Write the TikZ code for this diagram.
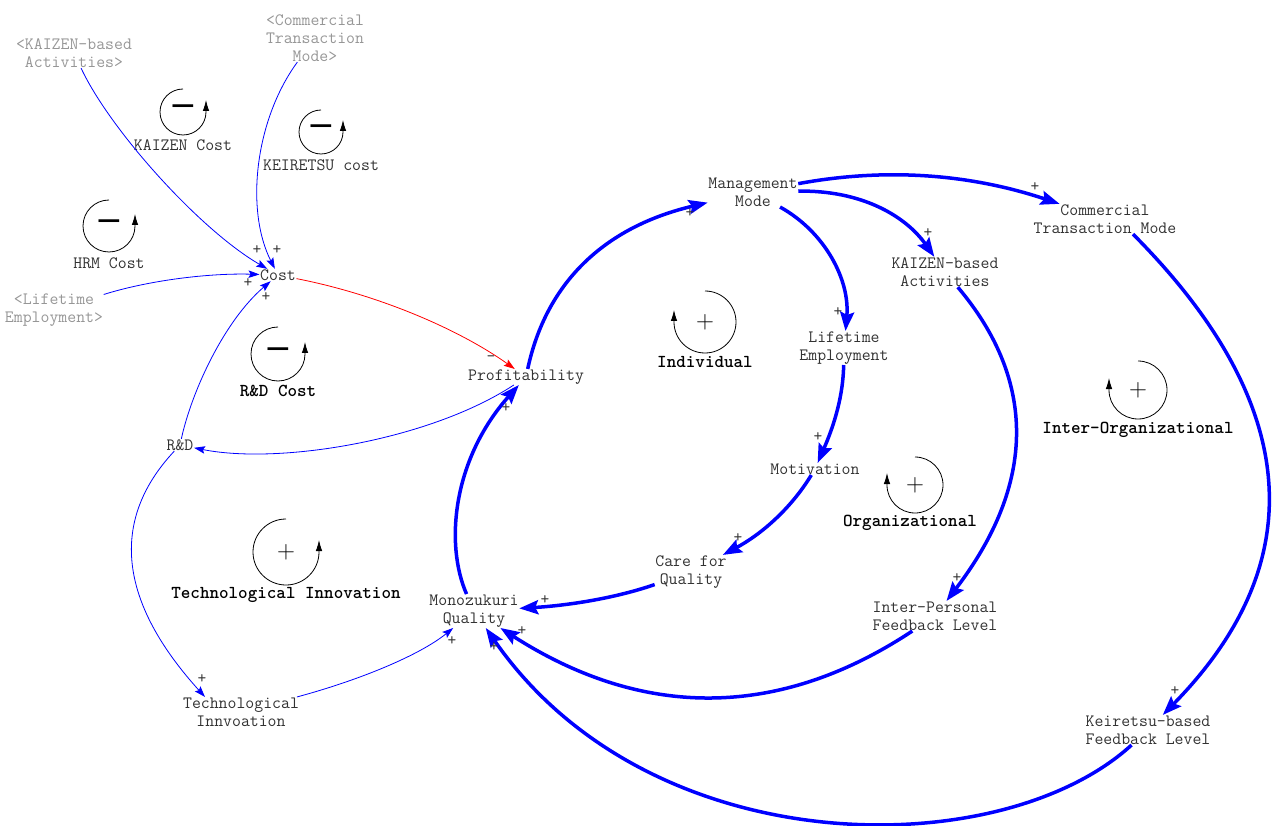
\documentclass[tikz,border=0pt]{standalone}
\usepackage{fontspec}
\newfontfamily\symfont{DejaVu Sans}
\usetikzlibrary{arrows.meta}
\definecolor{lbl}{RGB}{50,50,50}
\definecolor{ghost}{RGB}{150,150,150}
\definecolor{link}{RGB}{0,0,255}
\tikzset{
  var/.style={font=\ttfamily\fontsize{17.3}{18}\selectfont, text=lbl, align=center, inner sep=0.5pt},
  shadow var/.style={var, text=ghost},
  loopname/.style={font=\ttfamily\bfseries\fontsize{18.2}{18}\selectfont, text=black, inner sep=0pt},
  looptext/.style={font=\ttfamily\fontsize{17.3}{18}\selectfont, text=lbl, inner sep=0pt},
  pol/.style={font=\ttfamily\fontsize{17}{17}\selectfont, text=lbl, inner sep=0pt},
  thin link/.style={draw=link, line width=0.8pt, -{Stealth[length=11pt,width=7.5pt,inset=2pt]}},
  thick link/.style={draw=link, line width=3.5pt, -{Stealth[length=19pt,width=14pt,inset=3pt]}},
  neg link/.style={thin link, draw=red},
  loopring/.style={draw=black, line width=0.8pt, -{Latex[length=11pt,width=6.5pt]}},
  plusglyph/.style={inner sep=0pt, font=\fontsize{32}{32}\selectfont},
  minusglyph/.style={inner sep=0pt, font=\symfont\fontsize{33}{33}\selectfont},
}
\begin{document}
\begin{tikzpicture}[x=1pt, y=-1pt]
\useasboundingbox (0,0) rectangle (1272,826);

% variables
\node[shadow var] (kzg) at (74,53) {<KAIZEN-based\\Activities>};
\node[shadow var] (ctg) at (315,38) {<Commercial\\Transaction\\Mode>};
\node[shadow var] (leg) at (54,310) {<Lifetime\\Employment>};
\node[var] (cost) at (278,275) {Cost};
\node[var] (prof) at (526,377) {Profitability};
\node[var] (rd) at (180,445) {R\&D};
\node[var] (ti) at (241,712) {Technological\\Innvoation};
\node[var] (mq) at (474,611) {Monozukuri\\Quality};
\node[var] (mm) at (753,192) {Management\\Mode};
\node[var] (ctm) at (1105,219) {Commercial\\Transaction Mode};
\node[var] (kba) at (945,272) {KAIZEN-based\\Activities};
\node[var] (le) at (844,348) {Lifetime\\Employment};
\node[var] (mot) at (815,469) {Motivation};
\node[var] (cq) at (691,572) {Care for\\Quality};
\node[var] (ipf) at (935,616) {Inter-Personal\\Feedback Level};
\node[var] (kfl) at (1148,730) {Keiretsu-based\\Feedback Level};

% loop symbols: balancing loops turn with the arrow ending on the right
\draw[loopring] (183,112) ++(-90:23) arc[start angle=-90, end angle=-360, radius=23] -- ++(0,-12);
\node[minusglyph] (skc) at (183,111) {−};
\node[looptext] (tkc) at (183,145) {KAIZEN Cost};
\draw[loopring] (321,132) ++(-90:22) arc[start angle=-90, end angle=-360, radius=22] -- ++(0,-12);
\node[minusglyph] (skr) at (321,131) {−};
\node[looptext] (tkr) at (321,165) {KEIRETSU cost};
\draw[loopring] (109,226) ++(-90:26) arc[start angle=-90, end angle=-360, radius=26] -- ++(0,-12);
\node[minusglyph] (shr) at (109,226) {−};
\node[looptext] (thr) at (109,263) {HRM Cost};
\draw[loopring] (278,354) ++(-90:27) arc[start angle=-90, end angle=-360, radius=27] -- ++(0,-12);
\node[minusglyph] (srd) at (278,354) {−};
\node[loopname] (trd) at (278,391) {R\&D Cost};
\draw[loopring] (286,552) ++(-90:33) arc[start angle=-90, end angle=-360, radius=33] -- ++(0,-12);
\node[plusglyph] (sti) at (286,552) {$+$};
\node[loopname] (tti) at (286,595) {Technological Innovation};
% reinforcing loops with the arrow ending on the left
\draw[loopring] (705,322) ++(-90:31) arc[start angle=-90, end angle=180, radius=31] -- ++(0,-12);
\node[plusglyph] (sin) at (705,322) {$+$};
\node[loopname] (tin) at (705,362) {Individual};
\draw[loopring] (915,485) ++(-90:28) arc[start angle=-90, end angle=180, radius=28] -- ++(0,-12);
\node[plusglyph] (sor) at (915,485) {$+$};
\node[loopname] (tor) at (910,523) {Organizational};
\draw[loopring] (1138,390) ++(-90:29) arc[start angle=-90, end angle=180, radius=29] -- ++(0,-12);
\node[plusglyph] (sio) at (1138,390) {$+$};
\node[loopname] (tio) at (1138,430) {Inter-Organizational};

% cost side links
\draw[thin link] (kzg) .. controls (110,130) and (200,230) .. (cost);
\draw[thin link] (ctg) .. controls (255,120) and (245,210) .. (cost);
\draw[thin link] (leg) .. controls (150,280) and (210,273) .. (cost);
\draw[thin link] (rd) .. controls (192,390) and (225,320) .. (cost);
\draw[neg link] (cost) .. controls (380,295) and (460,330) .. (prof);
\draw[thin link] (prof) .. controls (430,440) and (280,465) .. (rd);
\draw[thin link] (rd) .. controls (109,521) and (119,602) .. ([xshift=-36pt]ti.north);
\draw[thin link] (ti) .. controls (360,680) and (420,655) .. (mq);

% reinforcing core
\draw[thick link] (mq) .. controls (445,545) and (452,460) .. (prof);
\draw[thick link] (prof) .. controls (546,283) and (604,227) .. (mm);
\draw[thick link] (mm) .. controls (883,168) and (967,173) .. (ctm);
\draw[thick link] (mm) .. controls (860,190) and (905,215) .. (kba);
\draw[thick link] (mm) .. controls (825,232) and (850,280) .. (le);
\draw[thick link] (le) .. controls (843,400) and (832,430) .. (mot);
\draw[thick link] (mot) .. controls (790,510) and (760,535) .. (cq);
\draw[thick link] (cq) .. controls (610,600) and (560,606) .. (mq);
\draw[thick link] (kba) .. controls (1037,381) and (1036,484) .. (ipf);
\draw[thick link] ([xshift=28pt]ctm.south) .. controls (1301,403) and (1313,562) .. (kfl);
\draw[thick link] (ipf) .. controls (778,720) and (642,719) .. (mq);
\draw[thick link] (kfl) .. controls (1000,865) and (650,865) .. (mq);

% polarities
\node[pol] (p1) at (257,250) {+};
\node[pol] (p2) at (277,250) {+};
\node[pol] (p3) at (248,283) {+};
\node[pol] (p4) at (266,297) {+};
\node[pol] (p5) at (491,359) {-};
\node[pol] (p6) at (506,408) {+};
\node[pol] (p7) at (202,679) {+};
\node[pol] (p8) at (452,641) {+};
\node[pol] (p9) at (690,213) {+};
\node[pol] (p10) at (1035,187) {+};
\node[pol] (p11) at (928,233) {+};
\node[pol] (p12) at (838,312) {+};
\node[pol] (p13) at (818,437) {+};
\node[pol] (p14) at (738,538) {+};
\node[pol] (p15) at (545,600) {+};
\node[pol] (p16) at (957,578) {+};
\node[pol] (p17) at (1175,691) {+};
\node[pol] (p18) at (522,631) {+};
\node[pol] (p19) at (494,647) {+};
\end{tikzpicture}
\end{document}
